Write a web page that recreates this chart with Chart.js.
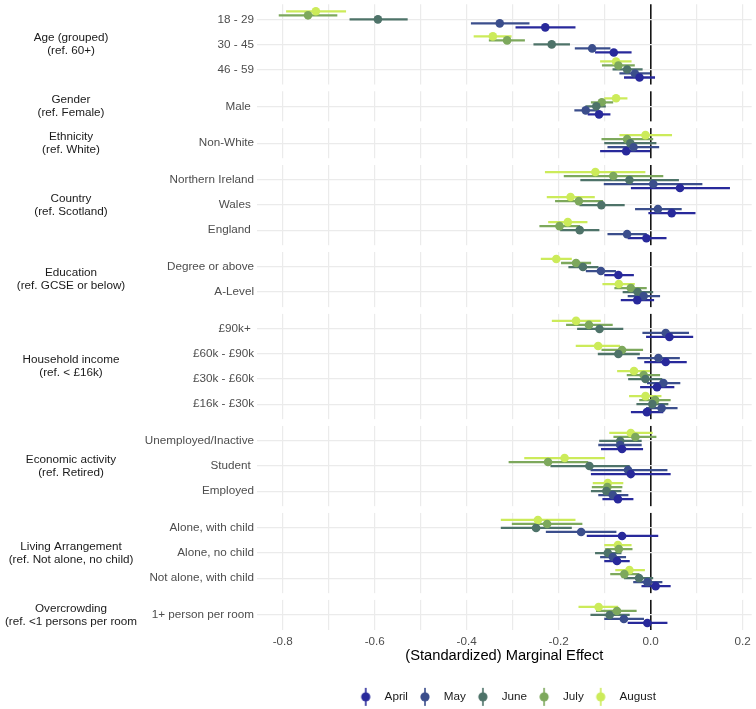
<!DOCTYPE html>
<html>
<head>
<meta charset="utf-8">
<script src="https://cdn.jsdelivr.net/npm/chart.js@4.4.1/dist/chart.umd.min.js"></script>
<style>
  html, body { margin: 0; padding: 0; background: #fff; }
  #wrap { width: 756px; height: 709px; }
</style>
</head>
<body>
<div id="wrap"><canvas id="chart" width="756" height="709"></canvas></div>
<script>
// Series (months) and colours
const months = ['April', 'May', 'June', 'July', 'August'];
const monthColors = ['#28299B', '#3B4E8C', '#4E7369', '#7DA85C', '#CCEB5A'];

// Facets (strip labels on the left) and their rows
const facetLabels = [
  'Age (grouped)\n(ref. 60+)',
  'Gender\n(ref. Female)',
  'Ethnicity\n(ref. White)',
  'Country\n(ref. Scotland)',
  'Education\n(ref. GCSE or below)',
  'Household income\n(ref. < £16k)',
  'Economic activity\n(ref. Retired)',
  'Living Arrangement\n(ref. Not alone, no child)',
  'Overcrowding\n(ref. <1 persons per room'
];
const facetSizes = [3, 1, 1, 3, 2, 4, 3, 3, 1];
const categories = [
  '18 - 29', '30 - 45', '46 - 59',
  'Male ',
  'Non-White',
  'Northern Ireland', 'Wales ', 'England ',
  'Degree or above', 'A-Level',
  '£90k+ ', '£60k - £90k', '£30k - £60k', '£16k - £30k',
  'Unemployed/Inactive', 'Student ', 'Employed',
  'Alone, with child', 'Alone, no child', 'Not alone, with child',
  '1+ person per room'
];

// x axis ticks
const xTicks = [-0.8, -0.7, -0.6, -0.5, -0.4, -0.3, -0.2, -0.1, 0, 0.1, 0.2];

// estimates and 95% intervals, one value per category (same order)
const estApril = [-0.229, -0.080, -0.024, -0.112, -0.053, 0.064, 0.046, -0.009, -0.070, -0.029, 0.041, 0.033, 0.014, -0.008, -0.062, -0.043, -0.071, -0.062, -0.073, 0.011, -0.007];
const loApril  = [-0.293, -0.120, -0.057, -0.136, -0.109, -0.042, -0.004, -0.049, -0.100, -0.064, -0.009, -0.013, -0.022, -0.042, -0.107, -0.129, -0.104, -0.138, -0.100, -0.019, -0.049];
const hiApril  = [-0.164, -0.042, 0.009, -0.088, 0.000, 0.172, 0.097, 0.034, -0.037, 0.007, 0.092, 0.078, 0.051, 0.027, -0.017, 0.043, -0.038, 0.016, -0.046, 0.043, 0.036];

const estMay = [-0.328, -0.127, -0.034, -0.141, -0.037, 0.006, 0.016, -0.051, -0.108, -0.015, 0.033, 0.017, 0.028, 0.024, -0.066, -0.049, -0.082, -0.151, -0.082, -0.007, -0.058];
const loMay  = [-0.390, -0.164, -0.067, -0.165, -0.093, -0.101, -0.033, -0.093, -0.140, -0.049, -0.017, -0.028, -0.007, -0.009, -0.113, -0.130, -0.113, -0.227, -0.109, -0.037, -0.100];
const hiMay  = [-0.264, -0.088, 0.000, -0.116, 0.018, 0.112, 0.067, -0.009, -0.076, 0.020, 0.083, 0.063, 0.064, 0.058, -0.020, 0.036, -0.049, -0.075, -0.054, 0.025, -0.015];

const estJune = [-0.593, -0.215, -0.051, -0.118, -0.044, -0.046, -0.107, -0.154, -0.147, -0.028, -0.111, -0.070, -0.011, 0.004, -0.066, -0.133, -0.096, -0.249, -0.093, -0.025, -0.089];
const loJune  = [-0.654, -0.254, -0.082, -0.141, -0.100, -0.152, -0.154, -0.196, -0.178, -0.060, -0.159, -0.114, -0.048, -0.030, -0.111, -0.217, -0.129, -0.325, -0.120, -0.057, -0.130];
const hiJune  = [-0.529, -0.176, -0.018, -0.098, 0.012, 0.061, -0.057, -0.112, -0.114, 0.005, -0.060, -0.024, 0.025, 0.038, -0.020, -0.046, -0.064, -0.172, -0.064, 0.005, -0.046];

const estJuly = [-0.745, -0.312, -0.070, -0.106, -0.051, -0.081, -0.156, -0.198, -0.162, -0.043, -0.134, -0.062, -0.015, 0.010, -0.033, -0.223, -0.094, -0.225, -0.069, -0.057, -0.073];
const loJuly  = [-0.808, -0.351, -0.105, -0.129, -0.106, -0.188, -0.207, -0.241, -0.194, -0.078, -0.183, -0.106, -0.051, -0.024, -0.080, -0.308, -0.127, -0.301, -0.098, -0.087, -0.118];
const hiJuly  = [-0.682, -0.274, -0.035, -0.082, 0.005, 0.027, -0.104, -0.154, -0.130, -0.009, -0.083, -0.017, 0.020, 0.043, 0.012, -0.136, -0.062, -0.149, -0.040, -0.025, -0.031];

const estAugust = [-0.728, -0.343, -0.075, -0.075, -0.011, -0.120, -0.174, -0.180, -0.205, -0.069, -0.162, -0.114, -0.036, -0.011, -0.043, -0.187, -0.093, -0.245, -0.071, -0.046, -0.113];
const loAugust  = [-0.792, -0.384, -0.109, -0.100, -0.067, -0.229, -0.225, -0.222, -0.238, -0.104, -0.214, -0.162, -0.072, -0.046, -0.089, -0.274, -0.125, -0.325, -0.100, -0.076, -0.156];
const hiAugust  = [-0.663, -0.303, -0.042, -0.051, 0.046, -0.012, -0.122, -0.138, -0.172, -0.035, -0.109, -0.067, 0.000, 0.023, 0.004, -0.100, -0.060, -0.164, -0.042, -0.013, -0.071];

const est = [estApril, estMay, estJune, estJuly, estAugust];
const lo = [loApril, loMay, loJune, loJuly, loAugust];
const hi = [hiApril, hiMay, hiJune, hiJuly, hiAugust];

// facet layout on a continuous y scale (like facet_grid with free space)
const GAP = 0.27, PAD = 0.6, DODGE = 0.16;
const rowPos = [], facetStart = [], facetEnd = [];
let cursor = 0;
facetSizes.forEach(n => {
  facetStart.push(cursor);
  for (let j = 0; j < n; j++) rowPos.push(cursor + PAD + j);
  cursor += n - 1 + 2 * PAD;
  facetEnd.push(cursor);
  cursor += GAP;
});
const yMax = facetEnd[facetEnd.length - 1];

const FONT = '"Liberation Sans", Arial, sans-serif';
Chart.defaults.font.family = FONT;
Chart.defaults.font.size = 11.7;

// legend glyph: point with a vertical range line
const glyphs = monthColors.map(c => {
  const g = document.createElement('canvas');
  g.width = 12; g.height = 20;
  const gx = g.getContext('2d');
  gx.fillStyle = c;
  gx.fillRect(5.2, 1, 1.6, 18);
  gx.beginPath();
  gx.arc(6, 10, 4.6, 0, Math.PI * 2);
  gx.fill();
  return g;
});

const pointSets = months.map((m, k) => ({
  type: 'scatter',
  label: m,
  order: k,
  data: est[k].map((v, i) => ({ x: v, y: rowPos[i] + (2 - k) * DODGE })),
  backgroundColor: monthColors[k],
  borderWidth: 0,
  pointRadius: 4.3,
  pointHoverRadius: 4.3
}));

const rangeSets = months.map((m, k) => ({
  type: 'bar',
  label: m + ' range',
  indexAxis: 'y',
  grouped: false,
  order: 10 + k,
  data: lo[k].map((v, i) => ({ x: [v, hi[k][i]], y: rowPos[i] + (2 - k) * DODGE })),
  backgroundColor: monthColors[k],
  borderWidth: 0,
  barThickness: 1.6
}));

// white gaps between facets + strip labels
const facetPlugin = {
  id: 'facets',
  beforeDatasetsDraw(chart) {
    const { ctx, chartArea: a } = chart;
    const y = chart.scales.y;
    ctx.save();
    ctx.fillStyle = '#fff';
    for (let f = 0; f < facetEnd.length - 1; f++) {
      const y1 = y.getPixelForValue(facetEnd[f]);
      const y2 = y.getPixelForValue(facetStart[f + 1]);
      ctx.fillRect(a.left - 2, y1, a.right - a.left + 4, y2 - y1);
    }
    ctx.restore();
  },
  afterDraw(chart) {
    const { ctx } = chart;
    const y = chart.scales.y;
    ctx.save();
    ctx.font = '11.7px ' + FONT;
    ctx.fillStyle = '#1A1A1A';
    ctx.textAlign = 'center';
    ctx.textBaseline = 'middle';
    facetLabels.forEach((lab, f) => {
      const lines = lab.split('\n');
      const cy = y.getPixelForValue((facetStart[f] + facetEnd[f]) / 2);
      lines.forEach((t, j) => {
        ctx.fillText(t, 71, cy + (j - (lines.length - 1) / 2) * 12.7);
      });
    });
    ctx.restore();
  }
};

new Chart(document.getElementById('chart').getContext('2d'), {
  type: 'scatter',
  data: { datasets: [...pointSets, ...rangeSets] },
  options: {
    responsive: false,
    animation: false,
    devicePixelRatio: 1,
    events: [],
    layout: { padding: { top: 3, right: 4, bottom: -3.7, left: 0 } },
    scales: {
      x: {
        type: 'linear',
        min: -0.856,
        max: 0.22,
        offset: false,
        afterBuildTicks: s => { s.ticks = xTicks.map(v => ({ value: v })); },
        afterFit: s => { s.height = 57; s.paddingLeft = 0; s.paddingRight = 0; },
        grid: {
          drawTicks: false,
          offset: false,
          color: c => (c.tick && c.tick.value === 0 ? '#151515' : '#EBEBEB'),
          lineWidth: c => (c.tick && c.tick.value === 0 ? 1.6 : 1.2)
        },
        border: { display: false },
        ticks: {
          autoSkip: false,
          maxRotation: 0,
          padding: 4.5,
          color: '#4D4D4D',
          callback: v => (Math.round(v * 10) % 2 === 0 ? v.toFixed(1) : '')
        },
        title: {
          display: true,
          text: '(Standardized) Marginal Effect',
          color: '#000',
          font: { size: 14.7 },
          padding: { top: 0, bottom: 22 }
        }
      },
      y: {
        type: 'linear',
        reverse: true,
        min: 0,
        max: yMax,
        offset: false,
        afterBuildTicks: s => { s.ticks = rowPos.map(v => ({ value: v })); },
        afterFit: s => { s.width = 257; s.paddingTop = 0; s.paddingBottom = 0; },
        grid: { drawTicks: false, offset: false, color: '#EBEBEB', lineWidth: 1.2 },
        border: { display: false },
        ticks: {
          autoSkip: false,
          padding: 3,
          color: '#4D4D4D',
          callback: (v, i) => categories[i]
        }
      }
    },
    plugins: {
      tooltip: { enabled: false },
      legend: {
        position: 'bottom',
        fullSize: false,
        labels: {
          usePointStyle: true,
          pointStyleWidth: 26,
          padding: 4,
          color: '#1A1A1A',
          filter: item => item.datasetIndex < months.length,
          generateLabels: chart =>
            Chart.defaults.plugins.legend.labels.generateLabels(chart)
              .map(item => ({ ...item, pointStyle: glyphs[item.datasetIndex] || item.pointStyle }))
        }
      }
    }
  },
  plugins: [facetPlugin]
});
</script>
</body>
</html>
